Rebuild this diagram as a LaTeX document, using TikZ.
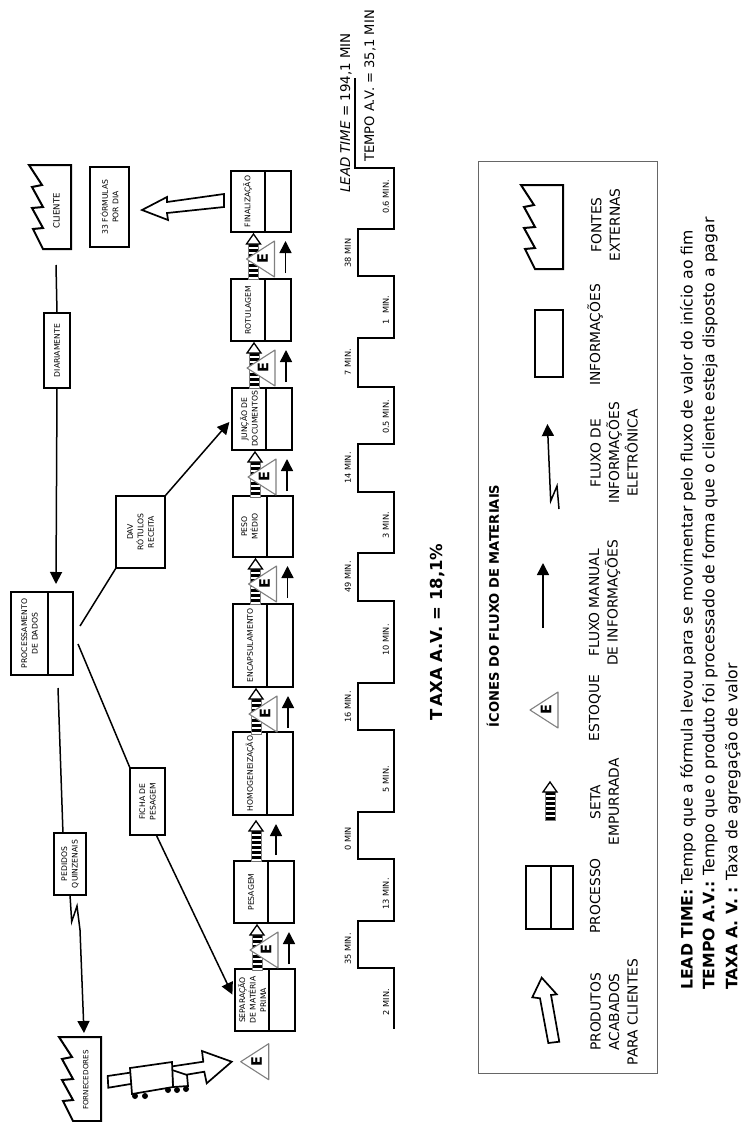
\documentclass[tikz,border=0pt]{standalone}
\usepackage{fontspec}
\usepackage{tikz}
\setmainfont{DejaVu Sans}
\usetikzlibrary{shapes,arrows.meta,positioning,calc}

\begin{document}
\begin{tikzpicture}[
    x=1pt, y=-1pt,
    boxline/.style={draw, line width=2pt, line join=miter},
    infobox/.style={rectangle, boxline, rotate=90, fill=white, align=center, inner sep=0pt, outer sep=0pt, font=\fontsize{7.7}{10.5}\selectfont},
    proctop/.style={infobox, minimum width=#1, minimum height=34pt},
    proclow/.style={infobox, minimum width=#1, minimum height=26pt, anchor=north},
    flow/.style={-{Triangle[length=12pt, width=12pt]}, line width=1.5pt},
    plain/.style={line width=1.5pt},
    blockarrow/.style={draw, fill=white, line width=1.7pt, line join=miter},
    steptext/.style={rotate=90, inner sep=0pt, font=\fontsize{8.2}{9}\selectfont},
    itemtext/.style={rotate=90, inner sep=0pt, align=center, font=\fontsize{13.8}{18.5}\selectfont},
    noteline/.style={rotate=90, anchor=west, inner sep=0pt, font=\fontsize{15.7}{18}\selectfont},
    timeline/.style={line width=1.6pt, line join=miter},
    factory/.pic={
        \draw[boxline] (0,0) -- (-42,0) -- (-29,20) -- (-39,22) -- (-28,42) -- (-39,43) -- (-28,63) -- (-38,64) -- (-28,84) -- (0,84) -- cycle;
    },
    stock/.pic={
        \draw[gray, fill=white, line width=1.1pt, line join=round] (0,0) -- (28,-18) -- (28,18) -- cycle;
        \node[rotate=90, inner sep=0pt, font=\fontsize{14.5}{15}\selectfont\bfseries] (-letter) at (16,0) {E};
    },
    pics/pusharrow/.style={code={
        \draw[gray, fill=white, line width=.8pt] (-5,10) rectangle (5,#1);
        \draw[line width=9pt, dash pattern=on 3pt off 2pt] (0,10) -- (0,#1);
        \draw[fill=white, line width=1.3pt, line join=miter] (0,0) -- (7,10) -- (-7,10) -- cycle;
    }},
    stockgap/.pic={
        \pic at (23,2) {pusharrow=45};
        \pic (-stock) at (16,27) {stock};
        \draw[flow] (55,41) -- (55,9);
    }
]
    \useasboundingbox (0,0) rectangle (743,1122);

    \node[itemtext, font=\fontsize{13.4}{15}\selectfont] (leadtime) at (346,113) {\textit{LEAD TIME} = 194,1 MIN};
    \node[itemtext, font=\fontsize{13.1}{15}\selectfont] (tempoav) at (370,86) {TEMPO A.V. = 35,1 MIN};

    \pic at (71,165) {factory};
    \node[steptext, font=\fontsize{8.6}{9}\selectfont] (cliente) at (56.5,211) {CLIENTE};
    \node[infobox, minimum width=80pt, minimum height=39pt] (formulas) at (109.5,207) {33 FÓRMULAS\\POR DIA};
    \node[infobox, minimum width=75pt, minimum height=26pt] (diario) at (57,350.5) {DIARIAMENTE};
    \coordinate (clientefoot) at (56,265);
    \coordinate (procin) at (56,584);

    \node[proctop=61pt] (final) at (247.5,201.5) {FINALIZAÇÃO};
    \node[proclow=61pt] (finalb) at (final.south) {};
    \node[proctop=62pt] (rotul) at (248,310) {ROTULAGEM};
    \node[proclow=62pt] (rotulb) at (rotul.south) {};
    \node[proctop=62pt] (juncao) at (249,419) {JUNÇÃO DE\\DOCUMENTOS};
    \node[proclow=62pt] (juncaob) at (juncao.south) {};
    \node[proctop=61pt] (peso) at (249.5,526.5) {PESO\\MÉDIO};
    \node[proclow=61pt] (pesob) at (peso.south) {};
    \node[proctop=83pt] (encaps) at (250,645.5) {ENCAPSULAMENTO};
    \node[proclow=83pt] (encapsb) at (encaps.south) {};
    \node[proctop=83pt] (homog) at (250,773.5) {HOMOGENEIZAÇÃO};
    \node[proclow=83pt] (homogb) at (homog.south) {};
    \node[proctop=62pt] (pesagem) at (251,892) {PESAGEM};
    \node[proclow=62pt] (pesagemb) at (pesagem.south) {};
    \node[proctop=62pt] (separa) at (252,1000) {SEPARAÇÃO\\DE MATÉRIA\\PRIMA};
    \node[proclow=62pt] (separab) at (separa.south) {};

    \node[proctop=83pt, minimum height=37pt] (dados) at (29.5,633.5) {PROCESSAMENTO\\DE DADOS};
    \node[proclow=83pt, minimum height=24.5pt] (dadosb) at (dados.south) {};
    \node[infobox, minimum width=72pt, minimum height=49pt] (dav) at (140.5,532) {DAV\\RÓTULOS\\RECEITA};
    \node[infobox, minimum width=67pt, minimum height=35pt] (ficha) at (147.5,801.5) {FICHA DE\\PESAGEM};
    \node[infobox, minimum width=62pt, minimum height=32pt] (pedidos) at (70,864) {PEDIDOS\\QUINZENAIS};
    \coordinate (dadosdav) at (80,626);
    \coordinate (dadosficha) at (78,644);
    \coordinate (dadosped) at (58,688);
    \coordinate (fornin) at (84,1033);

    \draw[plain] (clientefoot) -- (diario.east);
    \draw[flow] (diario.west) -- (procin);
    \draw[plain] (dadosdav) -- (dav.north west);
    \draw[flow, shorten >=4pt] (dav.south east) -- (juncao.north);
    \draw[plain] (dadosficha) -- (ficha.north east);
    \draw[flow, shorten >=6pt] ($(ficha.south west)!0.25!(ficha.north west)$) -- (separa.north);
    \draw[plain] (dadosped) -- ($(pedidos.north east)!0.28!(pedidos.south east)$);
    \draw[flow] (pedidos.west) -- (71.7,921.7) -- (77,906) -- (80,930) -- (fornin);

    \draw[blockarrow] (224,194) -- (167,202) -- (167,197) -- (142,210) -- (168,220) -- (167,213) -- (224,207) -- cycle;

    \pic (gapa) at (230.5,232) {stockgap};
    \pic (gapb) at (231,341) {stockgap};
    \pic (gapc) at (232,450) {stockgap};
    \pic (gapd) at (232.5,557) {stockgap};
    \pic (gape) at (233,687) {stockgap};
    \pic at (256,821) {pusharrow=40};
    \coordinate (pesatail) at (276,855);
    \coordinate (pesatip) at (276,824);
    \draw[flow] (pesatail) -- (pesatip);
    \pic (gapf) at (234,923) {stockgap};

    \draw[timeline] (355,78) |- (394,168) |- (358,229) |- (394,276) |- (358,338) |- (394,387) |- (358,444) |- (394,492) |- (358,553) |- (394,601) |- (358,683) |- (394,730) |- (358,812) |- (394,859) |- (358,921) |- (394,968) -- (394,1029);

    \node[steptext] (va) at (386,197) {0.6 MIN.};
    \node[steptext] (vb) at (386,310) {1 \ MIN.};
    \node[steptext] (vc) at (386,417) {0.5 MIN.};
    \node[steptext] (vd) at (386,525) {3 MIN.};
    \node[steptext] (ve) at (386,640) {10 MIN.};
    \node[steptext] (vf) at (386,779) {5 MIN.};
    \node[steptext] (vg) at (386,894) {13 MIN.};
    \node[steptext] (vh) at (386,1002) {2 MIN.};
    \node[steptext] (wa) at (348,253) {38 MIN};
    \node[steptext] (wb) at (348,362) {7 MIN.};
    \node[steptext] (wc) at (348,468) {14 MIN.};
    \node[steptext] (wd) at (348,577) {49 MIN.};
    \node[steptext] (we) at (348,707) {16 MIN.};
    \node[steptext] (wf) at (348,839) {0 MIN};
    \node[steptext] (wg) at (348,949) {35 MIN.};

    \pic at (101,1037) {factory};
    \node[steptext, font=\fontsize{7.2}{8}\selectfont] (fornecedor) at (85.7,1080) {FORNECEDORES};
    \draw[blockarrow] (107.7,1076) -- (203.3,1061.7) -- (202,1051) -- (231.7,1061.7) -- (206.7,1083.3) -- (204.3,1071.7) -- (108.3,1087.7) -- cycle;
    \draw[blockarrow] (172,1070) -- (187,1075) -- (188,1086) -- (173,1087) -- cycle;
    \draw[blockarrow] (130,1068) -- (172,1062) -- (173,1087) -- (132,1094) -- cycle;
    \fill (135,1096) circle (3pt);
    \fill (145,1096) circle (3pt);
    \fill (168,1090) circle (3pt);
    \fill (177,1090) circle (3pt);
    \fill (186,1089) circle (3pt);
    \pic (loose) at (240.7,1061.7) {stock};

    \node[rotate=90, inner sep=0pt, font=\fontsize{16.5}{20}\selectfont\bfseries] (taxa) at (438,632) {T\,AXA A.V. = 18,1\%};

    \node[draw, gray!80!black, line width=.9pt, minimum width=179pt, minimum height=912pt] (legend) at (567.5,617) {};
    \node[rotate=90, inner sep=0pt, font=\fontsize{13.1}{15}\selectfont\bfseries] (icones) at (493,606) {ÍCONES DO FLUXO DE MATERIAIS};

    \draw[blockarrow] (541.7,977.7) -- (556.7,994.3) -- (551,995) -- (559.3,1041.7) -- (548.3,1043) -- (540,998.3) -- (532.3,997.3) -- cycle;
    \node[itemtext] (prodtxt) at (614,1012) {PRODUTOS\\ACABADOS\\PARA CLIENTES};
    \node[proctop=63pt, minimum height=24.7pt] (legproc) at (538.3,897.5) {};
    \node[proclow=63pt, minimum height=22.3pt] (legprocb) at (legproc.south) {};
    \node[itemtext] (proctxt) at (595,896) {PROCESSO};
    \pic at (550,782) {pusharrow=38};
    \node[itemtext] (setatxt) at (604.5,802) {SETA\\EMPURRADA};
    \pic (legstock) at (530,710) {stock};
    \node[itemtext] (stocktxt) at (595,708) {ESTOQUE};
    \coordinate (mantail) at (543,628);
    \coordinate (mantip) at (543,563);
    \draw[flow] (mantail) -- (mantip);
    \node[itemtext] (mantxt) at (604.5,603) {FLUXO MANUAL\\DE INFORMAÇÕES};
    \coordinate (eletail) at (559,509);
    \coordinate (eletip) at (547.4,424);
    \draw[flow] (eletail) -- (557,486) -- (550.7,501) -- (eletip);
    \node[itemtext] (eletxt) at (614,453) {FLUXO DE\\INFORMAÇÕES\\ELETRÔNICA};
    \node[infobox, minimum width=67pt, minimum height=27.5pt] (leginfo) at (549.2,343.5) {};
    \node[itemtext] (infotxt) at (595,335) {INFORMAÇÕES};
    \pic at (563,185) {factory};
    \node[itemtext] (fontetxt) at (605.5,225) {FONTES\\EXTERNAS};

    \node[noteline] (notea) at (688,990) {\textbf{LEAD TIME:} Tempo que a fórmula levou para se movimentar pelo fluxo de valor do início ao fim};
    \node[noteline] (noteb) at (710,990) {\textbf{TEMPO A.V.:} Tempo que o produto foi processado de forma que o cliente esteja disposto a pagar};
    \node[noteline] (notec) at (733,990) {\textbf{TAXA A. V. :} Taxa de agregação de valor};
\end{tikzpicture}
\end{document}
